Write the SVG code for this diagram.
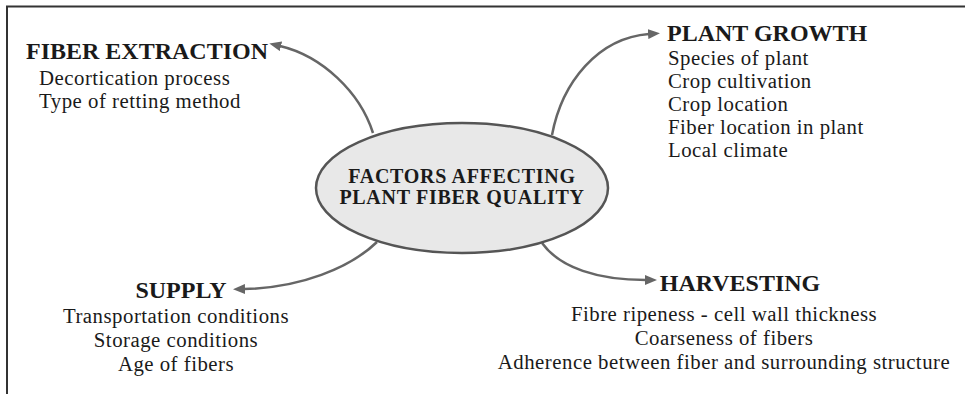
<svg xmlns="http://www.w3.org/2000/svg" width="965" height="394" viewBox="0 0 965 394">
<style>
.h{font-family:"Liberation Serif","Times New Roman",serif;font-weight:bold;font-size:24px;fill:#1a1a1a}
.b{font-family:"Liberation Serif","Times New Roman",serif;font-size:20.8px;letter-spacing:0.5px;fill:#1a1a1a}
.c{font-family:"Liberation Serif","Times New Roman",serif;font-weight:bold;font-size:20px;letter-spacing:0.7px;fill:#1a1a1a}
.con{fill:none;stroke:#666;stroke-width:2.5}
</style>
<defs>
<marker id="ah" viewBox="0 0 12 10" refX="1" refY="5" markerWidth="12" markerHeight="10" markerUnits="userSpaceOnUse" orient="auto">
<path d="M0,0 L12,5 L0,10 z" fill="#666"/>
</marker>
</defs>
<rect width="965" height="394" fill="#fff"/>
<path d="M7,394 V6.5 H965" fill="none" stroke="#333" stroke-width="2"/>
<g id="connectors">
<path class="con" d="M373,133 C360,92 322,56 280,46" marker-end="url(#ah)"/>
<path class="con" d="M552,135 C562,82 598,38 649,34" marker-end="url(#ah)"/>
<path class="con" d="M377,242 C350,268 300,288 244,289" marker-end="url(#ah)"/>
<path class="con" d="M542,243 C560,268 598,280 646,280" marker-end="url(#ah)"/>
</g>
<g id="center">
<ellipse cx="462" cy="188" rx="146" ry="65" fill="#e8e8e8" stroke="#555" stroke-width="2.5"/>
<text class="c" x="462" y="183" text-anchor="middle">FACTORS AFFECTING</text>
<text class="c" x="462" y="204" text-anchor="middle">PLANT FIBER QUALITY</text>
</g>
<g id="fiber-extraction">
<text class="h" x="26" y="59">FIBER EXTRACTION</text>
<text class="b" x="39" y="85">Decortication process</text>
<text class="b" x="39" y="108.2">Type of retting method</text>
</g>
<g id="plant-growth">
<text class="h" x="667" y="41">PLANT GROWTH</text>
<text class="b" x="668" y="64.5">Species of plant</text>
<text class="b" x="668" y="87.6">Crop cultivation</text>
<text class="b" x="668" y="110.7">Crop location</text>
<text class="b" x="668" y="133.8">Fiber location in plant</text>
<text class="b" x="668" y="156.9">Local climate</text>
</g>
<g id="supply">
<text class="h" x="181" y="298" text-anchor="middle">SUPPLY</text>
<text class="b" x="176" y="323" text-anchor="middle">Transportation conditions</text>
<text class="b" x="176" y="347" text-anchor="middle">Storage conditions</text>
<text class="b" x="176" y="371" text-anchor="middle">Age of fibers</text>
</g>
<g id="harvesting">
<text class="h" x="740" y="291" text-anchor="middle">HARVESTING</text>
<text class="b" x="724" y="321" text-anchor="middle">Fibre ripeness - cell wall thickness</text>
<text class="b" x="724" y="345" text-anchor="middle">Coarseness of fibers</text>
<text class="b" x="724" y="369" text-anchor="middle">Adherence between fiber and surrounding structure</text>
</g>
</svg>
